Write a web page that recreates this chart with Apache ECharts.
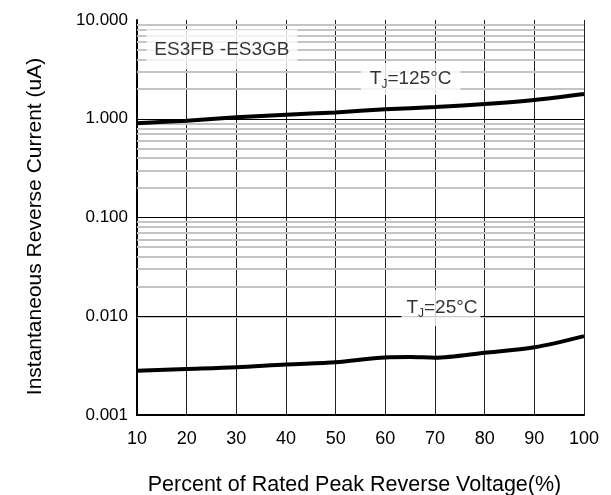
<!DOCTYPE html>
<html><head><meta charset="utf-8">
<script src="https://cdn.jsdelivr.net/npm/echarts@6/dist/echarts.min.js"></script>
<style>html,body{margin:0;padding:0;background:#fff}#c{width:611px;height:495px}</style>
</head><body><div id="c"></div>
<script>
const xTicks = [10,20,30,40,50,60,70,80,90,100];
const x125 = [10,20,30,40,50,60,70,80,90,100];
const y125 = [0.90,0.956,1.034,1.10,1.16,1.247,1.315,1.41,1.55,1.78];
const x25 = [10,20,30,40,50,60,65,70,80,90,100];
const y25 = [0.00281,0.00292,0.00304,0.00325,0.00342,0.00383,0.00386,0.00381,0.00427,0.00485,0.0063];
const minorValues = [];
[0.001,0.01,0.1,1].forEach(d=>{for(let k=2;k<=9;k++) minorValues.push(+(d*k).toPrecision(3));});
const majorValues = [0.01,0.1,1];
const labels = [
  {x:27.1, y:5.03, text:'ES3FB -ES3GB', kind:'plain'},
  {x:65.1, y:2.53, text:'125°C', kind:'tj'},
  {x:71.2, y:0.01213, text:'25°C', kind:'tj'}
];
const FONT = 'Liberation Sans, Arial, sans-serif';
const chart = echarts.init(document.getElementById('c'));
function pairs(xs, ys){return xs.map((x,i)=>[x, ys[i]]);}
chart.setOption({
  animation:false,
  grid:{left:137,right:27,top:20,bottom:80,containLabel:false,outerBoundsMode:'none'},
  xAxis:{type:'value',min:10,max:100,interval:10,
    axisLine:{show:true,lineStyle:{color:'#000',width:2}},
    axisTick:{show:false},
    axisLabel:{color:'#000',fontSize:18,fontFamily:FONT,margin:15,
      formatter:v=>xTicks.includes(v)?String(v):''},
    splitLine:{show:true,lineStyle:{color:'#222',width:1}},
    name:'Percent of Rated Peak Reverse Voltage(%)',nameLocation:'middle',nameGap:59,
    nameTextStyle:{color:'#000',fontSize:21.5,fontFamily:FONT,padding:[0,12,0,0]}
  },
  yAxis:{type:'log',logBase:10,min:0.001,max:10,
    axisLine:{show:true,lineStyle:{color:'#000',width:2}},
    axisTick:{show:false},
    axisLabel:{color:'#000',fontSize:17,fontFamily:FONT,margin:9,formatter:v=>(+v).toFixed(3)},
    splitLine:{show:false},
    name:'Instantaneous Reverse Current (uA)',nameLocation:'middle',nameGap:91,
    nameTextStyle:{color:'#000',fontSize:21,fontFamily:FONT,padding:[0,18,0,0]}
  },
  series:[
    {type:'line',data:[],z:1,silent:true,
      markLine:{silent:true,symbol:'none',label:{show:false},animation:false,
        lineStyle:{color:'#c4c4c4',width:2,type:'solid'},
        data:minorValues.map(v=>({yAxis:v}))}},
    {type:'line',data:[],z:1,silent:true,
      markLine:{silent:true,symbol:'none',label:{show:false},animation:false,
        lineStyle:{color:'#000',width:1,type:'solid'},
        data:majorValues.map(v=>({yAxis:v}))}},
    {type:'scatter',z:5,symbolSize:0,silent:true,
      data:labels.map(l=>({value:[l.x,l.y],
        label:{show:true,position:'inside',backgroundColor:'#fff',
          padding:l.kind==='plain'?[9,8,9,8]:(l.text==='125°C'?[5,9,5,9]:[7,3,7,5]),
          formatter:l.kind==='plain'?l.text:'{a|T}{b|J}{a|='+l.text+'}',
          color:'#000',fontSize:19,fontFamily:FONT,lineHeight:22,
          rich:{a:{fontSize:19,fontFamily:FONT,color:'#000',lineHeight:22},
                b:{fontSize:12,fontFamily:FONT,color:'#000',lineHeight:22,padding:[12,0,0,0]}}}}))},
    {type:'line',z:10,data:pairs(x125,y125),smooth:0.3,showSymbol:false,
      lineStyle:{color:'#000',width:4}},
    {type:'line',z:10,data:pairs(x25,y25),smooth:0.3,showSymbol:false,
      lineStyle:{color:'#000',width:4}}
  ]
});
</script></body></html>
